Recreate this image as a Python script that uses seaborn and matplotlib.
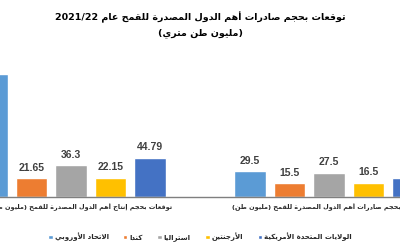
import re
import matplotlib
matplotlib.use("Agg")
import matplotlib.pyplot as plt
from matplotlib import font_manager
import seaborn as sns
import pandas as pd

# ---------------- data ----------------
countries = ["الاتحاد الأوروبي", "كندا", "استراليا", "الأرجنتين", "الولايات المتحدة الأمريكية"]
categories = ["توقعات بحجم إنتاج أهم الدول المصدرة للقمح (مليون طن متري)",
              "توقعات بحجم صادرات أهم الدول المصدرة للقمح (مليون طن)"]
production = [141.2, 21.65, 36.3, 22.15, 44.79]
exports = [29.5, 15.5, 27.5, 16.5, 21.75]
colors = ["#5b9bd5", "#ed7d31", "#a5a5a5", "#ffc000", "#4472c4"]
title_lines = ["توقعات بحجم صادرات أهم الدول المصدرة للقمح عام 2021/22", "(مليون طن متري)"]

# ---------------- minimal Arabic shaping (presentation forms + RTL) ----------------
FOUR = {'ئ': 0xFE89, 'ب': 0xFE8F, 'ت': 0xFE95, 'ث': 0xFE99, 'ج': 0xFE9D, 'ح': 0xFEA1,
        'خ': 0xFEA5, 'س': 0xFEB1, 'ش': 0xFEB5, 'ص': 0xFEB9, 'ض': 0xFEBD, 'ط': 0xFEC1,
        'ظ': 0xFEC5, 'ع': 0xFEC9, 'غ': 0xFECD, 'ف': 0xFED1, 'ق': 0xFED5, 'ك': 0xFED9,
        'ل': 0xFEDD, 'م': 0xFEE1, 'ن': 0xFEE5, 'ه': 0xFEE9, 'ي': 0xFEF1}
TWO = {'آ': 0xFE81, 'أ': 0xFE83, 'ؤ': 0xFE85, 'إ': 0xFE87, 'ا': 0xFE8D, 'ة': 0xFE93,
       'د': 0xFEA9, 'ذ': 0xFEAB, 'ر': 0xFEAD, 'ز': 0xFEAF, 'و': 0xFEED, 'ى': 0xFEEF}
LAMALEF = {'آ': 0xFEF5, 'أ': 0xFEF7, 'إ': 0xFEF9, 'ا': 0xFEFB}


def shape(s):
    out, i, n, prev = [], 0, len(s), False
    is_ar = lambda c: c in FOUR or c in TWO
    while i < n:
        c = s[i]
        if c == 'ل' and i + 1 < n and s[i + 1] in LAMALEF:
            b = LAMALEF[s[i + 1]]
            out.append(chr(b + 1 if prev else b))
            prev = False
            i += 2
            continue
        if c in FOUR:
            nxt = i + 1 < n and is_ar(s[i + 1])
            b = FOUR[c]
            f = b + 3 if (prev and nxt) else b + 1 if prev else b + 2 if nxt else b
            out.append(chr(f))
            prev = nxt
        elif c in TWO:
            b = TWO[c]
            out.append(chr(b + 1 if prev else b))
            prev = False
        else:
            out.append(c)
            prev = False
        i += 1
    return ''.join(out)


def ar(s):
    sh = shape(s)
    toks = re.findall(r'[0-9A-Za-z][0-9A-Za-z/.\-]*[0-9A-Za-z]|[0-9A-Za-z]|.', sh, flags=re.S)
    mirror = {'(': ')', ')': '('}
    return ''.join(mirror.get(t, t) for t in reversed(toks))


# ---------------- figure ----------------
sns.set_theme(style="white")
names = {f.name for f in font_manager.fontManager.ttflist}
COND = 'DejaVu Sans Condensed' in names
AR_FONT = ['DejaVu Sans Condensed', 'DejaVu Sans'] if COND else ['DejaVu Sans']
plt.rcParams['font.family'] = AR_FONT

df = pd.DataFrame({
    "category": [categories[0]] * len(countries) + [categories[1]] * len(countries),
    "country": countries + countries,
    "value": production + exports,
})

fig = plt.figure(figsize=(4, 2.5), dpi=100)
ax = fig.add_axes([0.0, 0.212, 1.0, 0.568])

sns.barplot(data=df, x="category", y="value", hue="country", order=categories,
            hue_order=countries, palette=colors, width=0.766, gap=0.21,
            saturation=1, ax=ax, legend=True, err_kws={'linewidth': 0})

for cont in ax.containers:
    ax.bar_label(cont, labels=[f"{b.get_height():g}" for b in cont], padding=4,
                 fontsize=7.5, fontweight="bold", color="#404040",
                 family="Liberation Sans")

ax.set_xlim(-0.275, 1.275)
ax.set_ylim(0, 163)
ax.set_xlabel("")
ax.set_ylabel("")
ax.set_yticks([])
ax.set_xticks([0, 1])
k = 1.0 if COND else 0.85
ax.set_xticklabels([ar(c) for c in categories], fontsize=5.5 * k, fontweight="bold",
                   color="#262626")
ax.tick_params(axis="x", length=0, pad=5)
for s in ["top", "right", "left"]:
    ax.spines[s].set_visible(False)
ax.spines["bottom"].set_color("#7f7f7f")
ax.spines["bottom"].set_linewidth(1.0)

handles, _ = ax.get_legend_handles_labels()
ax.legend(handles, [ar(c) for c in countries], loc="center",
          bbox_to_anchor=(0.5, 13 / 250), bbox_transform=fig.transFigure,
          ncol=5, frameon=False, handlelength=0.6, handleheight=0.6,
          handletextpad=0.3, columnspacing=2.1,
          prop={'weight': 'bold', 'size': 5.9 * k, 'family': AR_FONT})

for yy, line in zip([17, 33], title_lines):
    fig.text(0.5, 1 - yy / 250, ar(line), ha="center", va="center",
             fontsize=8.0 * k, fontweight="bold", color="black")

fig.savefig("out.png", dpi=100)
